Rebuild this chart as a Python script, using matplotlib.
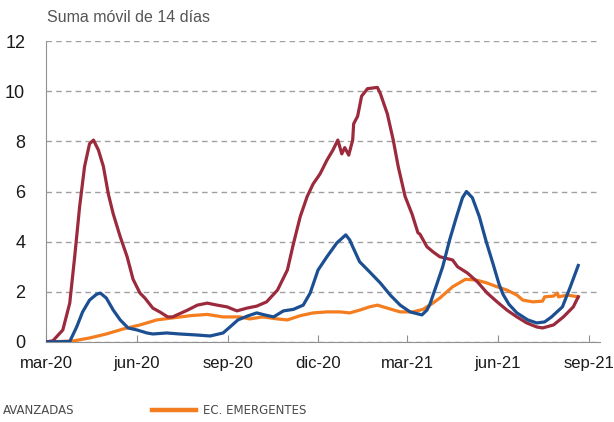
import matplotlib
matplotlib.use("Agg")
import pandas as pd
from matplotlib import pyplot as plt
from matplotlib.lines import Line2D

start = pd.Timestamp("2020-03-01")

# days since 1 mar 2020
red_days = [0, 7, 17, 24, 29, 34, 39, 44, 48, 53, 58, 63, 68, 75, 82, 88, 95, 100, 108, 115,
            123, 128, 143, 153, 163, 173, 183, 193, 203, 213, 223, 234, 244, 250, 257, 264,
            270, 277, 284, 290, 295, 299, 302, 306, 310, 311, 315, 319, 325, 335, 338, 345,
            351, 356, 363, 370, 376, 378, 385, 391, 398, 411, 416, 426, 436, 446, 456, 466,
            476, 486, 496, 502, 513, 523, 533, 538]
red_vals = [0, 0.05, 0.48, 1.55, 3.4, 5.4, 7.0, 7.9, 8.05, 7.65, 7.0, 5.9, 5.1, 4.2, 3.4, 2.5,
            1.95, 1.75, 1.35, 1.2, 1.0, 1.0, 1.27, 1.47, 1.55, 1.47, 1.4, 1.24, 1.35, 1.43, 1.6,
            2.07, 2.87, 3.9, 5.0, 5.8, 6.3, 6.7, 7.25, 7.65, 8.05, 7.5, 7.75, 7.45, 8.05, 8.7,
            9.0, 9.8, 10.1, 10.15, 9.9, 9.1, 8.05, 7.0, 5.8, 5.1, 4.35, 4.3, 3.8, 3.6, 3.4,
            3.27, 3.0, 2.75, 2.4, 1.95, 1.6, 1.27, 1.0, 0.76, 0.6, 0.56, 0.68, 1.0, 1.4, 1.8]

blue_days = [0, 24, 31, 37, 44, 51, 55, 61, 68, 75, 83, 92, 102, 108, 122, 135, 152, 166, 179,
             186, 194, 204, 213, 221, 230, 240, 250, 260, 267, 275, 284, 294, 303, 307, 310,
             317, 327, 338, 348, 358, 368, 380, 385, 388, 395, 401, 408, 415, 421, 425, 431,
             438, 445, 452, 458, 462, 468, 476, 487, 496, 504, 511, 522, 530, 538]
blue_vals = [0, 0.02, 0.6, 1.2, 1.67, 1.9, 1.95, 1.75, 1.27, 0.88, 0.56, 0.48, 0.36, 0.32,
             0.36, 0.32, 0.28, 0.24, 0.36, 0.6, 0.88, 1.04, 1.16, 1.08, 1.0, 1.24, 1.3, 1.47,
             1.95, 2.87, 3.4, 3.95, 4.27, 4.07, 3.8, 3.2, 2.8, 2.35, 1.87, 1.47, 1.2, 1.08,
             1.27, 1.5, 2.3, 3.0, 4.07, 5.0, 5.75, 6.0, 5.75, 5.0, 4.0, 3.1, 2.3, 1.9, 1.5,
             1.16, 0.88, 0.76, 0.8, 1.0, 1.4, 2.2, 3.05]

orange_days = [0, 27, 44, 61, 78, 95, 112, 128, 146, 163, 179, 196, 206, 219, 234, 244, 257,
               270, 284, 297, 307, 317, 327, 335, 345, 358, 371, 381, 391, 398, 411, 424, 435,
               446, 456, 466, 476, 482, 492, 502, 504, 513, 517, 518, 527, 538]
orange_vals = [0, 0.04, 0.16, 0.32, 0.52, 0.68, 0.88, 0.96, 1.05, 1.1, 1.0, 1.0, 0.92, 1.0,
               0.92, 0.88, 1.05, 1.16, 1.2, 1.2, 1.16, 1.27, 1.4, 1.47, 1.35, 1.2, 1.2, 1.3,
               1.55, 1.75, 2.2, 2.5, 2.47, 2.35, 2.2, 2.07, 1.87, 1.67, 1.6, 1.63, 1.8, 1.83,
               1.95, 1.8, 1.87, 1.8]

tick_dates = ["2020-03-01", "2020-06-01", "2020-09-01", "2020-12-01",
              "2021-03-01", "2021-06-01", "2021-09-01"]
tick_labels = ["mar-20", "jun-20", "sep-20", "dic-20", "mar-21", "jun-21", "sep-21"]

RED = "#9c2a3d"
BLUE = "#1c4f91"
ORANGE = "#f47d20"


def to_dates(days):
    return [start + pd.Timedelta(days=d) for d in days]


plt.rcParams["font.family"] = ["Liberation Sans", "DejaVu Sans"]

fig = plt.figure(figsize=(6.14, 4.22), dpi=100)
ax = fig.add_axes([46 / 614, 1 - 342 / 422, (600 - 46) / 614, (342 - 41) / 422])

ax.plot(to_dates(orange_days), orange_vals, color=ORANGE, lw=2.3, zorder=3)
ax.plot(to_dates(red_days), red_vals, color=RED, lw=2.3, zorder=4)
ax.plot(to_dates(blue_days), blue_vals, color=BLUE, lw=2.3, zorder=5)

ax.set_ylim(0, 12)
ax.set_yticks(range(0, 13, 2))
ax.set_xlim(start, start + pd.Timedelta(days=560))
ax.set_xticks(pd.to_datetime(tick_dates))
ax.set_xticklabels(tick_labels)

ax.grid(axis="y", color="#a0a0a0", ls=(0, (4, 3)), lw=1)
ax.set_axisbelow(True)
for s in ["top", "right"]:
    ax.spines[s].set_visible(False)
ax.spines["left"].set_color("#909090")
ax.spines["bottom"].set_color("#909090")
ax.tick_params(axis="x", direction="in", length=5, color="#909090", pad=10,
               labelsize=12, labelcolor="#1a1a1a")
ax.tick_params(axis="y", length=0, pad=15, labelsize=13, labelcolor="#1a1a1a")

fig.text(47 / 614, 1 - 18 / 422, "Suma móvil de 14 días", fontsize=11.5,
         color="#555555", va="center", ha="left")

leg_font = ["Liberation Sans Narrow", "DejaVu Sans"]
leg_y = 1 - 411 / 422
fig.text(3 / 614, leg_y, "AVANZADAS", family=leg_font, fontsize=8.5,
         color="#4a4a4a", va="center", ha="left")
fig.add_artist(Line2D([152 / 614, 196 / 614], [leg_y + 0.002] * 2, color=ORANGE, lw=3.2,
                      transform=fig.transFigure))
fig.text(203 / 614, leg_y, "EC. EMERGENTES", family=leg_font, fontsize=8.5,
         color="#4a4a4a", va="center", ha="left")

fig.savefig("out.png", dpi=100)
